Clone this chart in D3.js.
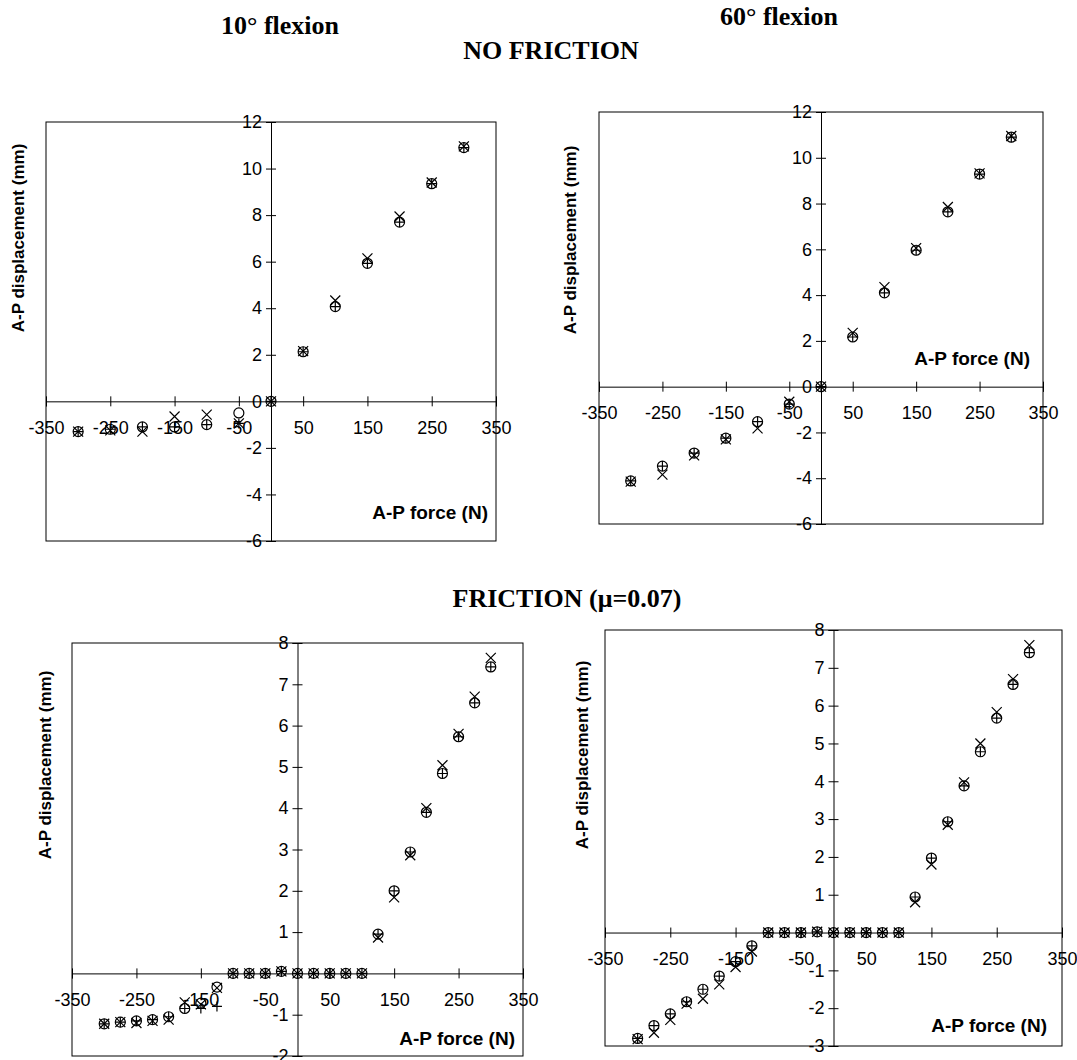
<!DOCTYPE html>
<html>
<head>
<meta charset="utf-8">
<script src="https://cdn.jsdelivr.net/npm/d3@7"></script>
<style>
  html, body { margin: 0; padding: 0; background: #fff; }
  svg { display: block; }
  .tick text { font-family: "Liberation Sans", Arial, sans-serif; font-size: 18px; fill: #000; }
  .axtitle { font-family: "Liberation Sans", Arial, sans-serif; font-size: 17px; font-weight: bold; fill: #000; }
  .xtitle { font-size: 19px; }
  .head { font-family: "Liberation Serif", "Times New Roman", serif; font-weight: bold; fill: #000; }
</style>
</head>
<body>
<svg id="chart" width="1077" height="1060"></svg>
<script>
// ---------------- DATA ----------------
const xTickValues = [-350, -250, -150, -50, 50, 150, 250, 350];
const yTicksNoFriction = [-6, -4, -2, 0, 2, 4, 6, 8, 10, 12];
const yTicksFric10 = [-2, -1, 1, 2, 3, 4, 5, 6, 7, 8];
const yTicksFric60 = [-3, -2, -1, 1, 2, 3, 4, 5, 6, 7, 8];

// No friction: applied A-P force (N)
const forceNoFriction = [-300, -250, -200, -150, -100, -50, 0, 50, 100, 150, 200, 250, 300];
// 10° flexion, no friction: displacement (mm)
const nf10Circle = [-1.3, -1.2, -1.1, -1.1, -1.0, -0.5, 0, 2.13, 4.07, 5.93, 7.7, 9.35, 10.9];
const nf10Plus   = [-1.3, -1.2, -1.1, -1.1, -1.0, -0.95, 0, 2.13, 4.07, 5.93, 7.7, 9.35, 10.9];
const nf10Cross  = [-1.3, -1.25, -1.3, -0.65, -0.57, -0.95, 0, 2.16, 4.33, 6.14, 7.94, 9.4, 10.95];
// 60° flexion, no friction
const nf60Circle = [-4.12, -3.47, -2.9, -2.25, -1.53, -0.76, 0, 2.17, 4.1, 5.96, 7.64, 9.29, 10.9];
const nf60Plus   = [-4.12, -3.47, -2.9, -2.25, -1.53, -0.76, 0, 2.17, 4.1, 5.96, 7.64, 9.29, 10.9];
const nf60Cross  = [-4.15, -3.84, -3.0, -2.3, -1.82, -0.66, 0, 2.35, 4.35, 6.05, 7.85, 9.32, 10.95];

// Friction (mu = 0.07): applied A-P force (N)
const forceFriction = [-300, -275, -250, -225, -200, -175, -150, -125, -100, -75, -50, -25, 0, 25, 50, 75, 100, 125, 150, 175, 200, 225, 250, 275, 300];
// 10° flexion, friction
const f10Circle = [-1.22, -1.18, -1.15, -1.12, -1.05, -0.85, -0.72, -0.33, 0, 0, 0, 0.05, 0, 0, 0, 0, 0, 0.95, 2.0, 2.94, 3.9, 4.84, 5.73, 6.55, 7.42];
const f10Plus   = [-1.22, -1.18, -1.15, -1.12, -1.05, -0.85, -0.85, -0.8, 0, 0, 0, 0.05, 0, 0, 0, 0, 0, 0.95, 2.0, 2.94, 3.9, 4.84, 5.73, 6.55, 7.42];
const f10Cross  = [-1.22, -1.18, -1.2, -1.15, -1.12, -0.7, -0.75, -0.35, 0, 0, 0, 0.05, 0, 0, 0, 0, 0, 0.87, 1.84, 2.86, 4.0, 5.04, 5.8, 6.7, 7.64];
// 60° flexion, friction
const f60Circle = [-2.8, -2.46, -2.15, -1.83, -1.5, -1.15, -0.77, -0.35, 0, 0, 0, 0.02, 0, 0, 0, 0, 0, 0.94, 1.97, 2.93, 3.88, 4.78, 5.67, 6.56, 7.4];
const f60Plus   = [-2.8, -2.46, -2.15, -1.83, -1.5, -1.15, -0.77, -0.35, 0, 0, 0, 0.02, 0, 0, 0, 0, 0, 0.94, 1.97, 2.93, 3.88, 4.78, 5.67, 6.56, 7.4];
const f60Cross  = [-2.82, -2.65, -2.31, -1.88, -1.75, -1.37, -0.91, -0.5, 0, 0, 0, 0.02, 0, 0, 0, 0, 0, 0.8, 1.8, 2.85, 3.97, 5.0, 5.83, 6.7, 7.6];

// ---------------- DRAW ----------------
const svg = d3.select("#chart");
const fmt = d => String(d);   // plain hyphen-minus like the original

function drawPanel(p) {
  const x = d3.scaleLinear().domain([-350, 350]).range([p.left, p.right]);
  const y = d3.scaleLinear().domain(p.yDomain).range([p.bottom, p.top]);
  const g = svg.append("g");

  // plot-area frame
  g.append("rect")
    .attr("x", p.left).attr("y", p.top)
    .attr("width", p.right - p.left).attr("height", p.bottom - p.top)
    .attr("fill", "none").attr("stroke", "#000").attr("stroke-width", 1);

  // x axis crossing at y = 0
  const xa = g.append("g")
    .attr("transform", `translate(0,${y(0)})`)
    .call(d3.axisBottom(x).tickValues(xTickValues).tickSizeOuter(0).tickSize(5).tickPadding(15).tickFormat(fmt));
  xa.select(".domain").attr("stroke", "#000");
  xa.selectAll(".tick line").attr("y1", -5).attr("y2", 5).attr("stroke", "#000");

  // y axis crossing at x = 0
  const ya = g.append("g")
    .attr("transform", `translate(${x(0)},0)`)
    .call(d3.axisLeft(y).tickValues(p.yTicks).tickSizeOuter(0).tickSize(5).tickPadding(4).tickFormat(fmt));
  ya.select(".domain").attr("stroke", "#000");
  ya.selectAll(".tick line").attr("x1", -5).attr("x2", 5).attr("stroke", "#000");

  // axis titles
  g.append("text").attr("class", "axtitle xtitle")
    .attr("x", p.xTitle[0]).attr("y", p.xTitle[1])
    .attr("text-anchor", "end").text("A-P force (N)");
  g.append("text").attr("class", "axtitle")
    .attr("transform", `translate(${p.yTitle[0]},${p.yTitle[1]}) rotate(-90)`)
    .attr("text-anchor", "middle").text("A-P displacement (mm)");

  const r = 5;
  const pts = (vals) => p.force.map((f, i) => [f, vals[i]]);

  // circles
  g.append("g").selectAll("circle").data(pts(p.circle)).join("circle")
    .attr("cx", d => x(d[0])).attr("cy", d => y(d[1])).attr("r", r)
    .attr("fill", "none").attr("stroke", "#000").attr("stroke-width", 1.2);
  // plus
  g.append("g").selectAll("path").data(pts(p.plus)).join("path")
    .attr("d", d => { const cx = x(d[0]), cy = y(d[1]); return `M${cx - r},${cy}H${cx + r}M${cx},${cy - r}V${cy + r}`; })
    .attr("stroke", "#000").attr("stroke-width", 1.2).attr("fill", "none");
  // cross
  g.append("g").selectAll("path").data(pts(p.cross)).join("path")
    .attr("d", d => { const cx = x(d[0]), cy = y(d[1]); return `M${cx - r},${cy - r}L${cx + r},${cy + r}M${cx - r},${cy + r}L${cx + r},${cy - r}`; })
    .attr("stroke", "#000").attr("stroke-width", 1.2).attr("fill", "none");
}

// headings
svg.append("text").attr("class", "head").attr("x", 280).attr("y", 34).attr("font-size", 26).attr("text-anchor", "middle").text("10° flexion");
svg.append("text").attr("class", "head").attr("x", 779).attr("y", 25).attr("font-size", 26).attr("text-anchor", "middle").text("60° flexion");
svg.append("text").attr("class", "head").attr("x", 551).attr("y", 59).attr("font-size", 26).attr("text-anchor", "middle").text("NO FRICTION");
svg.append("text").attr("class", "head").attr("x", 567).attr("y", 607).attr("font-size", 26).attr("text-anchor", "middle").text("FRICTION (μ=0.07)");

drawPanel({ left: 46, right: 496, top: 122, bottom: 541, yDomain: [-6, 12], yTicks: yTicksNoFriction,
  force: forceNoFriction, circle: nf10Circle, plus: nf10Plus, cross: nf10Cross,
  xTitle: [488, 519], yTitle: [24, 238] });
drawPanel({ left: 599, right: 1043, top: 112, bottom: 524, yDomain: [-6, 12], yTicks: yTicksNoFriction,
  force: forceNoFriction, circle: nf60Circle, plus: nf60Plus, cross: nf60Cross,
  xTitle: [1030, 365], yTitle: [576, 240] });
drawPanel({ left: 72, right: 523, top: 643, bottom: 1056, yDomain: [-2, 8], yTicks: yTicksFric10,
  force: forceFriction, circle: f10Circle, plus: f10Plus, cross: f10Cross,
  xTitle: [515, 1045], yTitle: [51, 765] });
drawPanel({ left: 605, right: 1062, top: 630, bottom: 1046, yDomain: [-3, 8], yTicks: yTicksFric60,
  force: forceFriction, circle: f60Circle, plus: f60Plus, cross: f60Cross,
  xTitle: [1047, 1032], yTitle: [588, 755] });
</script>
</body>
</html>
